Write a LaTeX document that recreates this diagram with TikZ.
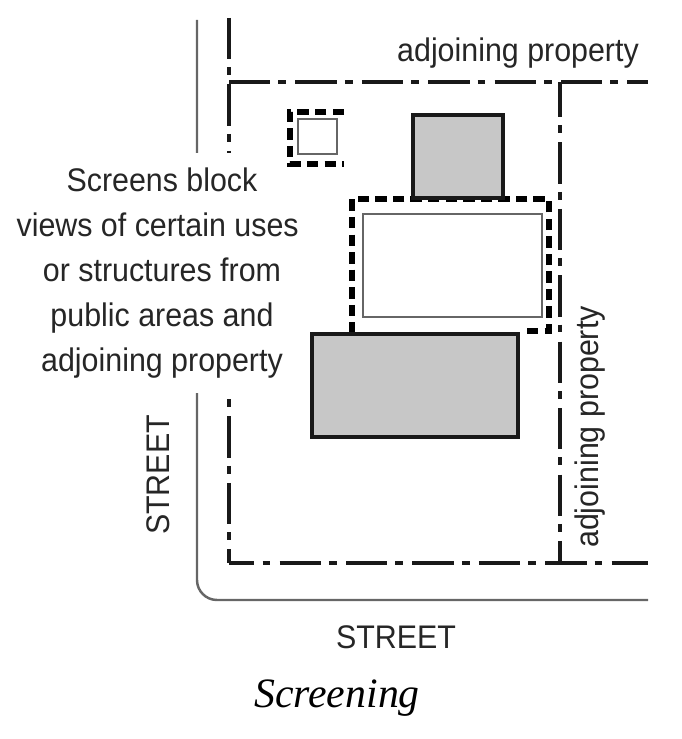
\documentclass[tikz,border=0pt]{standalone}
\usepackage{fontspec}
\setmainfont[FakeStretch=0.93]{Liberation Sans}
\newfontfamily\capfont{Liberation Serif}
\tikzset{
    lindero/.style={black!90,line width=1.8pt,dash pattern=on 23.5pt off 4.6pt on 4.4pt off 5.3pt},
    calle/.style={black!60,line width=1.4pt},
    pantalla/.style={black,line width=3.2pt,dash pattern=on 6.5pt off 3.5pt},
    obra/.style={draw=black!90,line width=2.1pt,fill=black!22},
    oculto/.style={draw=black!60,line width=1.4pt,fill=white},
    rotulo/.style={font=\fontsize{18.6}{25.5}\selectfont,text=black!85,inner sep=0pt},
}
\begin{document}
\begin{tikzpicture}[x=0.02cm,y=-0.02cm]
\useasboundingbox (0,0) rectangle (681,739);

%Calles
\draw[calle,rounded corners=0.4cm] (197,20) -- (197,600) -- (648,600);

%Lotes
\draw[lindero] (229,18) -- (229,563);
\draw[lindero,dash phase=9pt] (229,563) -- (648,563);
\draw[lindero] (229,82) -- (648,82);
\draw[lindero,dash phase=3.4pt] (560,82) -- (560,563);

%Textos
\node[rotulo,fill=white,align=center,minimum height=4.8cm] (nota) at (162,273) {Screens block\\views of certain uses\kern5pt\\or structures from\\public areas and\\adjoining property};
\node[rotulo] (vecinoa) at (518,53) {adjoining property};
\node[rotulo,rotate=90] (vecinob) at (590,427) {adjoining property};
\node[rotulo,rotate=90] (callea) at (158,475) {STREET};
\node[rotulo] (calleb) at (396,637) {STREET};
\node[inner sep=0pt,font=\capfont\itshape\fontsize{23.8}{28}\selectfont] (titulo) at (337,698) {Screening};

%Pantallas
\draw[pantalla] (344,112) -- (290,112) -- (290,164) -- (344,164);
\draw[pantalla] (527,331) -- (549,331) -- (549,199) -- (352,199) -- (352,334);

%Edificios
\draw[oculto] (298,119) rectangle (337,154);
\draw[oculto] (363,214) rectangle (542,317);
\draw[obra] (413,115) rectangle (503,198);
\draw[obra] (312,334) rectangle (518,437);
\end{tikzpicture}
\end{document}
